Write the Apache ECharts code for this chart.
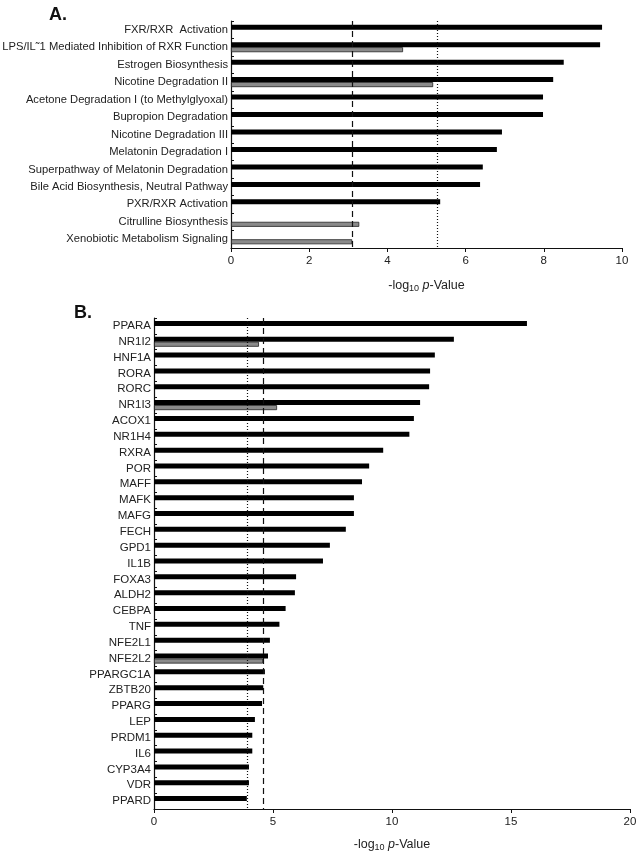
<!DOCTYPE html>
<html>
<head>
<meta charset="utf-8">
<script src="https://cdn.jsdelivr.net/npm/echarts@6/dist/echarts.min.js"></script>
<style>
  html, body { margin: 0; padding: 0; background: #fff; }
  #chart { width: 637px; height: 853px; }
</style>
</head>
<body>
<div id="chart"></div>
<script>
// panel A: canonical pathways
var pathways = ['FXR/RXR  Activation', 'LPS/IL\u02dc1 Mediated Inhibition of RXR Function', 'Estrogen Biosynthesis',
    'Nicotine Degradation II', 'Acetone Degradation I (to Methylglyoxal)', 'Bupropion Degradation',
    'Nicotine Degradation III', 'Melatonin Degradation I', 'Superpathway of Melatonin Degradation',
    'Bile Acid Biosynthesis, Neutral Pathway', 'PXR/RXR Activation', 'Citrulline Biosynthesis',
    'Xenobiotic Metabolism Signaling'];
var pathwayBlack = [9.49, 9.44, 8.51, 8.24, 7.98, 7.98, 6.93, 6.80, 6.44, 6.37, 5.35, '-', '-'];
var pathwayGray = ['-', 4.40, '-', 5.17, '-', '-', '-', '-', '-', '-', '-', 3.28, 3.10];
var pathwayDashed = 3.10;
var pathwayDotted = 5.27;

// panel B: upstream regulators
var regulators = ['PPARA', 'NR1I2', 'HNF1A', 'RORA', 'RORC', 'NR1I3', 'ACOX1', 'NR1H4', 'RXRA', 'POR',
    'MAFF', 'MAFK', 'MAFG', 'FECH', 'GPD1', 'IL1B', 'FOXA3', 'ALDH2', 'CEBPA', 'TNF', 'NFE2L1',
    'NFE2L2', 'PPARGC1A', 'ZBTB20', 'PPARG', 'LEP', 'PRDM1', 'IL6', 'CYP3A4', 'VDR', 'PPARD'];
var regulatorBlack = [15.67, 12.6, 11.8, 11.6, 11.56, 11.18, 10.92, 10.73, 9.63, 9.04,
    8.74, 8.4, 8.4, 8.06, 7.39, 7.1, 5.97, 5.92, 5.53, 5.27, 4.87,
    4.79, 4.66, 4.59, 4.54, 4.24, 4.13, 4.13, 3.99, 3.99, 3.9];
var regulatorGray = ['-', 4.41, '-', '-', '-', 5.17, '-', '-', '-', '-',
    '-', '-', '-', '-', '-', '-', '-', '-', '-', '-', '-',
    4.58, '-', '-', '-', '-', '-', '-', '-', '-', '-'];
var regulatorDotted = 3.9;
var regulatorDashed = 4.58;

var font = 'Liberation Sans, Arial, sans-serif';
var textColor = '#222';

function xAxisFor(gridIndex, max, interval, gap) {
    return {
        gridIndex: gridIndex, type: 'value', min: 0, max: max, interval: interval,
        splitLine: { show: false },
        axisLine: { show: true, lineStyle: { color: '#111', width: 1.2 } },
        axisTick: { show: true, inside: false, length: 4, lineStyle: { color: '#111' } },
        axisLabel: { color: textColor, fontSize: 11.5, fontFamily: font, margin: 7 },
        name: '-log{s|10} {i|p}-Value',
        nameLocation: 'middle', nameGap: gap,
        nameTextStyle: {
            color: textColor, fontSize: 12.5, fontFamily: font,
            rich: {
                s: { fontSize: 9, fontFamily: font, color: textColor, padding: [6, 0, 0, 0] },
                i: { fontSize: 12.5, fontFamily: font, color: textColor, fontStyle: 'italic' }
            }
        }
    };
}

function yAxisFor(gridIndex, cats, size) {
    return {
        gridIndex: gridIndex, type: 'category', data: cats, inverse: true,
        axisLine: { show: true, lineStyle: { color: '#111', width: 1.2 } },
        axisTick: { show: true, inside: true, length: 3, lineStyle: { color: '#111' } },
        axisLabel: { color: textColor, fontSize: size, fontFamily: font, margin: 3 }
    };
}

function refLines(dashed, dotted) {
    return {
        silent: true, symbol: 'none', label: { show: false },
        data: [
            { xAxis: dashed, lineStyle: { type: [6, 4], color: '#111', width: 1.2 } },
            { xAxis: dotted, lineStyle: { type: [1, 2], color: '#111', width: 1.2 } }
        ]
    };
}

var chart = echarts.init(document.getElementById('chart'));
var option = {
    backgroundColor: '#fff',
    animation: false,
    title: [
        { text: 'A.', left: 44, top: 1, textStyle: { fontSize: 18, fontWeight: 'bold', fontFamily: font, color: '#111' } },
        { text: 'B.', left: 69, top: 299, textStyle: { fontSize: 18, fontWeight: 'bold', fontFamily: font, color: '#111' } }
    ],
    grid: [
        { left: 231, right: 15, top: 21, height: 227, outerBoundsMode: 'none', containLabel: false },
        { left: 154, right: 7, top: 318, height: 491, outerBoundsMode: 'none', containLabel: false }
    ],
    xAxis: [xAxisFor(0, 10, 2, 30), xAxisFor(1, 20, 5, 28)],
    yAxis: [yAxisFor(0, pathways, 11.2), yAxisFor(1, regulators, 11.5)],
    series: [
        {
            type: 'bar', xAxisIndex: 0, yAxisIndex: 0, data: pathwayBlack,
            barWidth: 5, barGap: '0%', itemStyle: { color: '#000' },
            markLine: refLines(pathwayDashed, pathwayDotted)
        },
        {
            type: 'bar', xAxisIndex: 0, yAxisIndex: 0, data: pathwayGray,
            barWidth: 5, barGap: '0%', itemStyle: { color: '#8a8a8a', borderColor: '#222', borderWidth: 0.8 }
        },
        {
            type: 'bar', xAxisIndex: 1, yAxisIndex: 1, data: regulatorBlack,
            barWidth: 5, barGap: '0%', itemStyle: { color: '#000' },
            markLine: refLines(regulatorDashed, regulatorDotted)
        },
        {
            type: 'bar', xAxisIndex: 1, yAxisIndex: 1, data: regulatorGray,
            barWidth: 5, barGap: '0%', itemStyle: { color: '#8a8a8a', borderColor: '#222', borderWidth: 0.8 }
        }
    ]
};
chart.setOption(option);
</script>
</body>
</html>
